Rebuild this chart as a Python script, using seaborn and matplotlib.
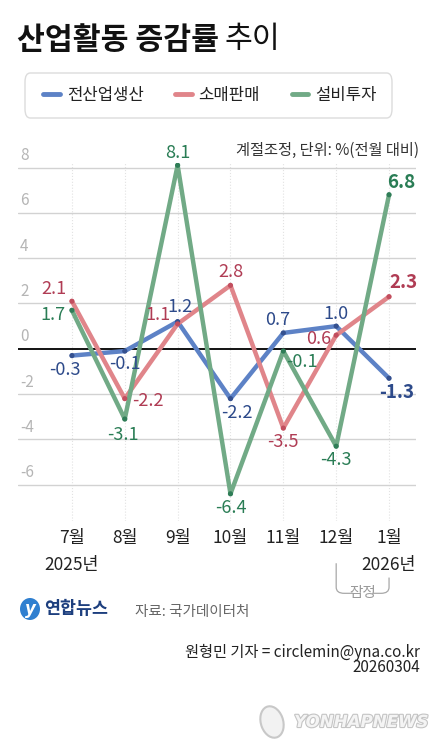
import pandas as pd
import matplotlib.pyplot as plt
import seaborn as sns
from matplotlib.lines import Line2D
from matplotlib.patches import Ellipse, FancyBboxPatch, PathPatch
from matplotlib.path import Path
import matplotlib.patheffects as pe

months = ['7월', '8월', '9월', '10월', '11월', '12월', '1월']
production = [-0.3, -0.1, 1.2, -2.2, 0.7, 1.0, -1.3]
retail = [2.1, -2.2, 1.1, 2.8, -3.5, 0.6, 2.3]
investment = [1.7, -3.1, 8.1, -6.4, -0.1, -4.3, 6.8]
series_names = ['전산업생산', '소매판매', '설비투자']
y_ticks = [-6, -4, -2, 0, 2, 4, 6, 8]

line_colors = {'전산업생산': '#5d82c6', '소매판매': '#e0858a', '설비투자': '#71aa86'}
dot_colors = {'전산업생산': '#34508f', '소매판매': '#c24e5e', '설비투자': '#2f7d57'}
text_colors = {'전산업생산': '#2d4a8a', '소매판매': '#b03c54', '설비투자': '#2a7d55'}

df = pd.DataFrame({
    'idx': list(range(len(months))) * 3,
    'value': production + retail + investment,
    'series': [s for s in series_names for _ in months],
})

sns.set_style('white')
plt.rcParams['font.family'] = ['Noto Sans CJK KR', 'DejaVu Sans']

fig = plt.figure(figsize=(4.41, 7.5), dpi=100)
ax = fig.add_axes([18 / 441, 1 - 521 / 750, 398 / 441, 358 / 750])

for t in y_ticks:
    ax.axhline(t, color='black' if t == 0 else '#d2d2d2', lw=1.3 if t == 0 else 1.0, zorder=1)
    ax.text(0.005, t + 0.15, str(t), transform=ax.get_yaxis_transform(),
            ha='left', va='bottom', fontsize=11, color='#b5b5b5')
for i in range(len(months)):
    ax.axvline(i, color='#e2e2e2', lw=0.8, ls=':', zorder=0)

sns.lineplot(data=df, x='idx', y='value', hue='series', palette=line_colors,
             linewidth=3.2, legend=False, ax=ax, zorder=3)
sns.scatterplot(data=df, x='idx', y='value', hue='series', palette=dot_colors,
                s=14, linewidth=0, legend=False, ax=ax, zorder=4)

# label offsets (pixels)
offsets = {
    '전산업생산': [(-7, -14), (0, -13), (2, 15), (6, -14), (-6, 13), (0, 12), (8, -14)],
    '소매판매': [(-18, 12), (23, -2), (-20, 9), (0, 13), (0, -14), (-18, -4), (14, 14)],
    '설비투자': [(-19, -5), (-2, -16), (0, 12), (0, -14), (19, -11), (0, -14), (12, 12)],
}
values = {'전산업생산': production, '소매판매': retail, '설비투자': investment}
for name in series_names:
    for i, v in enumerate(values[name]):
        last = i == len(months) - 1
        ax.annotate(f'{v:.1f}', (i, v), xytext=offsets[name][i], textcoords='offset pixels',
                    ha='center', va='center', color=text_colors[name],
                    fontsize=13.5 if last else 13, fontweight='bold' if last else 'normal',
                    zorder=5, annotation_clip=False)

ax.set_xlim(-1.02, 6.51)
ax.set_ylim(-7.6, 8.2)
ax.set_xticks(range(len(months)), months)
ax.set_yticks([])
ax.tick_params(axis='x', length=0, pad=6, labelsize=12.5, labelcolor='#222222')
ax.set_xlabel('')
ax.set_ylabel('')
for sp in ax.spines.values():
    sp.set_visible(False)

xt = ax.get_xaxis_transform()
ax.annotate('2025년', (0, 0), xycoords=xt, xytext=(0, -44), textcoords='offset pixels',
            ha='center', va='center', fontsize=12.5, color='#222222')
ax.annotate('2026년', (6, 0), xycoords=xt, xytext=(0, -44), textcoords='offset pixels',
            ha='center', va='center', fontsize=12.5, color='#222222')

# preliminary bracket
yb = -0.202
verts = [(5.0, -0.118), (5.0, -0.185), (5.0, yb), (5.15, yb), (5.32, yb)]
codes = [Path.MOVETO, Path.LINETO, Path.CURVE3, Path.CURVE3, Path.LINETO]
ax.add_patch(PathPatch(Path(verts, codes), transform=xt, fill=False, ec='#a8a8a8', lw=0.9, clip_on=False))
verts = [(5.68, yb), (5.85, yb), (6.0, yb), (6.0, -0.185), (6.0, -0.158)]
codes = [Path.MOVETO, Path.LINETO, Path.CURVE3, Path.CURVE3, Path.LINETO]
ax.add_patch(PathPatch(Path(verts, codes), transform=xt, fill=False, ec='#a8a8a8', lw=0.9, clip_on=False))
ax.text(5.5, yb, '잠정', transform=xt, ha='center', va='center', fontsize=10.5, color='#9a9a9a')

# title
fig.text(17 / 441, 1 - 40 / 750, '산업활동 증감률', fontsize=21.8, fontweight='bold',
         ha='left', va='center', color='#111111')
fig.text(224 / 441, 1 - 40 / 750, '추이', fontsize=21.8, ha='left', va='center', color='#111111')

# legend box
fig.patches.append(FancyBboxPatch((25 / 441, 1 - 118 / 750), 367 / 441, 45 / 750,
                                  boxstyle='round,pad=0,rounding_size=0.012',
                                  transform=fig.transFigure, fc='white', ec='#dcdcdc', lw=1))
handles = [Line2D([], [], color=line_colors[n], lw=3.5, solid_capstyle='round') for n in series_names]
fig.legend(handles, series_names, loc='center', bbox_to_anchor=(210 / 441, 1 - 95.5 / 750),
           ncol=3, frameon=False, fontsize=12, handlelength=1.0, handletextpad=0.4,
           columnspacing=1.9, labelcolor='#222222')

fig.text(419 / 441, 1 - 150 / 750, '계절조정, 단위: %(전월 대비)', fontsize=11,
         ha='right', va='center', color='#333333')

# logo and source
fig.patches.append(Ellipse((30 / 441, 1 - 609 / 750), 20 / 441, 22 / 750, angle=0,
                           transform=fig.transFigure, fc='#2f7fd0', ec='none'))
fig.text(30 / 441, 1 - 609 / 750, 'y', fontsize=12, fontstyle='italic', fontweight='bold',
         color='white', ha='center', va='center', family=['DejaVu Sans'])
fig.text(44 / 441, 1 - 609 / 750, '연합뉴스', fontsize=12.5, fontweight='bold',
         color='#1d3f7e', ha='left', va='center')
fig.text(135 / 441, 1 - 612 / 750, '자료: 국가데이터처', fontsize=10.5,
         color='#666666', ha='left', va='center')

fig.text(420 / 441, 1 - 652 / 750, '원형민 기자 = circlemin@yna.co.kr', fontsize=11,
         color='#222222', ha='right', va='center')
fig.text(420 / 441, 1 - 668 / 750, '20260304', fontsize=11,
         color='#222222', ha='right', va='center')

# watermark
fig.patches.append(Ellipse((272 / 441, 1 - 722 / 750), 24 / 441, 30 / 750, angle=-20,
                           transform=fig.transFigure, fc='#f2f2f2', ec='#c8c8c8', lw=1.5))
fig.text(428 / 441, 1 - 722 / 750, 'YONHAPNEWS', fontsize=12, fontstyle='italic',
         fontweight='bold', color='#f4f4f4', ha='right', va='center', family=['DejaVu Sans'],
         path_effects=[pe.withStroke(linewidth=1.6, foreground='#c4c4c4')])

fig.savefig('out.png', dpi=100, facecolor='white')
